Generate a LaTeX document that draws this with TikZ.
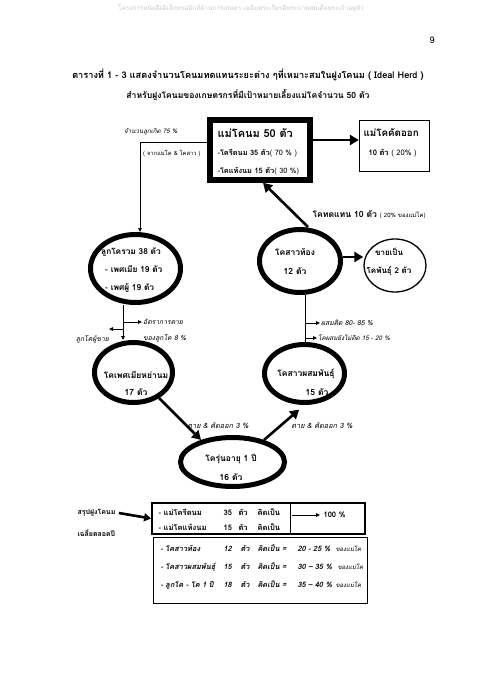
\documentclass[tikz,border=0pt]{standalone}
\usepackage{fontspec}
\setmainfont[Script=Thai]{Loma}
\usetikzlibrary{shapes.geometric,arrows.meta}

\begin{document}
\begin{tikzpicture}[x=1pt,y=-1pt,
    fat/.style={-{Triangle[length=9pt,width=10pt]}, line width=2.6pt},
    slim/.style={-{Triangle[length=4pt,width=3.5pt]}, line width=0.8pt},
    oval/.style={draw, ellipse, line width=5pt, inner sep=0pt},
    inside/.style={align=center, inner sep=0pt, font=\bfseries\fontsize{8.5}{19}\selectfont},
    note/.style={font=\itshape\fontsize{6.8}{7}\selectfont, inner sep=1pt},
    row/.style={anchor=west, font=\bfseries\fontsize{7.6}{8}\selectfont}]
    \useasboundingbox (0,0) rectangle (480,679);

    % Header and title
    \node[text=black!22, font=\fontsize{6.4}{7}\selectfont] (head) at (241,8)
        {โครงการหนังสืออิเล็กทรอนิกส์ด้านการเกษตร เฉลิมพระเกียรติพระบาทสมเด็จพระเจ้าอยู่หัว};
    \node[font=\fontsize{9}{10}\selectfont] (page) at (432,40) {9};
    \node[font=\bfseries\fontsize{9.2}{10}\selectfont] (title) at (248,75)
        {ตารางที่ 1 - 3 แสดงจำนวนโคนมทดแทนระยะต่าง ๆที่เหมาะสมในฝูงโคนม ( Ideal Herd )};
    \node[font=\bfseries\fontsize{8.6}{10}\selectfont] (title2) at (248,95)
        {สำหรับฝูงโคนมของเกษตรกรที่มีเป้าหมายเลี้ยงแม่โคจำนวน 50 ตัว};

    % Boxes
    \node[draw, line width=5.5pt, minimum width=100, minimum height=60] (herd) at (260,150) {};
    \node[anchor=west, font=\bfseries\fontsize{11}{12}\selectfont] (herdA) at (214,133) {แม่โคนม 50 ตัว};
    \node[row, font=\bfseries\fontsize{7.4}{8}\selectfont] (herdB) at (214,153)
        {-โครีดนม 35 ตัว{\mdseries( 70 \% )}};
    \node[row, font=\bfseries\fontsize{7.4}{8}\selectfont] (herdC) at (214,171)
        {-โคแห้งนม 15 ตัว{\mdseries( 30 \%)}};
    \node[draw, line width=1.3pt, minimum width=70, minimum height=51] (cull) at (394.5,146) {};
    \node[anchor=west, font=\bfseries\fontsize{9.8}{10}\selectfont] (cullA) at (360,133) {แม่โคคัดออก};
    \node[row] (cullB) at (365,153) {10 ตัว {\mdseries( 20\% )}};
    \draw[fat] ([yshift=10pt]herd.east) -- ([yshift=10pt]herd.east -| cull.west);

    % Ellipses
    \node[oval, minimum width=90, minimum height=68] (calves) at (135.5,268.5) {};
    \node[inside, align=left, anchor=west, font=\bfseries\fontsize{8.3}{18}\selectfont] (calvesT) at (101,270)
        {ลูกโครวม 38 ตัว\\ \hspace*{4pt}- เพศเมีย 19 ตัว\\ \hspace*{4pt}- เพศผู้ 19 ตัว};
    \node[oval, minimum width=81, minimum height=63] (preg) at (300,261) {};
    \node[inside] (pregT) at (295,261) {โคสาวท้อง\\ 12 ตัว};
    \node[oval, line width=1.3pt, minimum width=62, minimum height=53] (sell) at (395,265.5) {};
    \node[inside, font=\bfseries\fontsize{8}{18}\selectfont] (sellT) at (389,262) {ขายเป็น\\ โคพันธุ์ 2 ตัว};
    \node[oval, minimum width=78, minimum height=60] (wean) at (133.5,372.5) {};
    \node[inside, font=\bfseries\fontsize{8.5}{17}\selectfont] (weanT) at (136,383)
        {โคเพศเมียหย่านม\\ 17 ตัว};
    \node[oval, minimum width=80, minimum height=58] (breed) at (304.5,373.5) {};
    \node[inside] (breedT) at (306,382) {โคสาวผสมพันธุ์\\ \hspace*{22pt}15 ตัว};
    \node[oval, minimum width=104, minimum height=49] (young) at (232.5,462) {};
    \node[inside] (youngT) at (231,467) {โครุ่นอายุ 1 ปี\\ 16 ตัว};

    % Births
    \draw[slim] ([yshift=8pt]herd.west) -| ([xshift=4.5pt]calves.north);
    \node[note, anchor=west, font=\itshape\fontsize{6.2}{7}\selectfont] (born) at (123,132) {จำนวนลูกเกิด 75 \%};
    \node[note, anchor=west, font=\fontsize{5.8}{6}\selectfont] (born2) at (142,153) {( จากแม่โค \& โคสาว )};

    % Replacement heifers back to the herd
    \draw[fat] ([xshift=8pt]preg.north) -- ([xshift=3pt]herd.south);
    \node[anchor=west, font=\bfseries\fontsize{8.6}{9}\selectfont] (repl) at (309,215)
        {โคทดแทน 10 ตัว {\mdseries\fontsize{6}{7}\selectfont( 20\% ของแม่โค)}};
    \draw[fat] ([yshift=4pt]preg.east) -- ([yshift=4pt]preg.east -| sell.west);

    % Calves to weaned heifers
    \draw[slim] ([xshift=-12.5pt]calves.south) -- ([xshift=-12.5pt]calves.south |- wean.north);
    \coordinate (death) at (123,322);
    \coordinate (sold) at (123,329);
    \node[note, anchor=west] (deathA) at (142,322) {อัตราการตาย};
    \node[note, anchor=west] (deathB) at (142,338) {ของลูกโค 8 \%};
    \node[note, anchor=east] (soldA) at (110,339) {ลูกโคผู้ขาย};
    \draw[slim] (death) -- (deathA.west);
    \draw[slim] (sold) -- ++(-14,0);

    % Pregnant heifers and breeding heifers
    \draw[line width=1pt] ([xshift=5pt]preg.south) -- ([xshift=5pt]preg.south |- breed.north);
    \coordinate (hit) at (305,323);
    \coordinate (miss) at (305,338);
    \node[note, anchor=west] (hitA) at (320,323) {ผสมติด 80- 85 \%};
    \node[note, anchor=west, font=\itshape\fontsize{6.3}{7}\selectfont] (missA) at (317,338) {โคผสมยังไม่ติด 15 - 20 \%};
    \draw[slim] (hit) -- (hitA.west);
    \draw[slim] (miss) -- (missA.west);

    % Yearlings
    \draw[fat] (wean.-45) -- (young.145);
    \draw[fat, shorten >=7pt] (young.35) -- (breed.south);
    \node[note, font=\itshape\fontsize{7.3}{8}\selectfont] (lossA) at (218,426) {ตาย \& คัดออก 3 \%};
    \node[note, font=\itshape\fontsize{7.3}{8}\selectfont] (lossB) at (322,426) {ตาย \& คัดออก 3 \%};

    % Summary
    \node[row, font=\bfseries\fontsize{7}{8}\selectfont] (sum) at (74,513) {สรุปฝูงโคนม};
    \node[row, font=\bfseries\fontsize{7}{8}\selectfont] (sum2) at (74,533) {เฉลี่ยตลอดปี};
    \node[draw, line width=1.8pt, minimum width=213, minimum height=31] (tabA) at (258.5,518.5) {};
    \draw[line width=0.8pt] (290,503) -- (290,534);
    \draw[fat, -{Triangle[length=7pt,width=8pt]}] (sum.east) -- (tabA.west);
    \node[row] (rowA) at (155,512)
        {\makebox[65pt][l]{- แม่โครีดนม}\makebox[15pt][l]{35}\makebox[19pt][l]{ตัว}คิดเป็น};
    \node[row] (rowB) at (155,527)
        {\makebox[65pt][l]{- แม่โคแห้งนม}\makebox[15pt][l]{15}\makebox[19pt][l]{ตัว}คิดเป็น};
    \coordinate (all) at (292,515);
    \node[row] (full) at (320,515) {100 \%};
    \draw[slim] (all) -- (full.west);

    \node[draw, line width=0.9pt, minimum width=214, minimum height=66] (tabB) at (260,570) {};
    \node[row, font=\bfseries\itshape\fontsize{7.4}{8}\selectfont] (rowC) at (157,548)
        {\makebox[63pt][l]{- โคสาวท้อง}\makebox[17pt][l]{12}\makebox[17pt][l]{ตัว}\makebox[40pt][l]{คิดเป็น =}\makebox[38pt][l]{20 - 25 \%}{\mdseries\fontsize{6}{7}\selectfont ของแม่โค}};
    \node[row, font=\bfseries\itshape\fontsize{7.4}{8}\selectfont] (rowD) at (157,567)
        {\makebox[63pt][l]{- โคสาวผสมพันธุ์}\makebox[17pt][l]{15}\makebox[17pt][l]{ตัว}\makebox[40pt][l]{คิดเป็น =}\makebox[40pt][l]{30 – 35 \%}{\mdseries\fontsize{6}{7}\selectfont ของแม่โค}};
    \node[row, font=\bfseries\itshape\fontsize{7.4}{8}\selectfont] (rowE) at (157,585)
        {\makebox[63pt][l]{- ลูกโค - โค 1 ปี}\makebox[17pt][l]{18}\makebox[17pt][l]{ตัว}\makebox[40pt][l]{คิดเป็น =}\makebox[38pt][l]{35 – 40 \%}{\mdseries\fontsize{6}{7}\selectfont ของแม่โค}};
\end{tikzpicture}
\end{document}
